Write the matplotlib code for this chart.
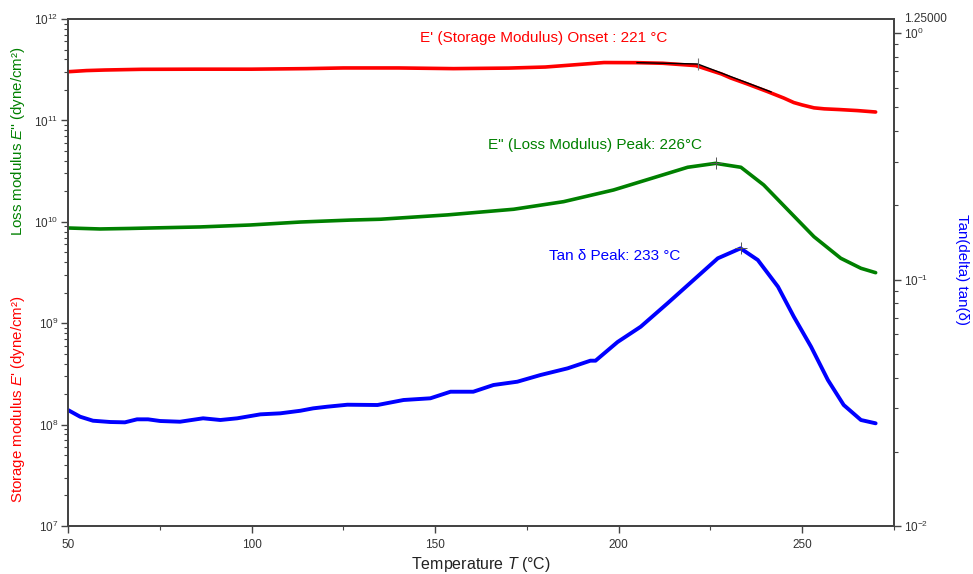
import numpy as np
import matplotlib
matplotlib.use("Agg")
import matplotlib.pyplot as plt
from matplotlib.ticker import LogLocator, NullFormatter, FixedLocator

plt.rcParams['font.family'] = ['Liberation Sans', 'DejaVu Sans']
plt.rcParams['mathtext.fontset'] = 'custom'
plt.rcParams['mathtext.rm'] = 'Liberation Sans'
plt.rcParams['mathtext.it'] = 'Liberation Sans:italic'

# storage modulus E' (dyne/cm2)
storage_T = [50, 55, 60, 70, 85, 100, 115, 125, 140, 155, 170, 180, 190, 196, 205,
             212, 221, 228, 230.5, 235, 240.6, 245, 247.7, 250, 253.2, 256, 260, 265, 270]
storage_E = [3.02e11, 3.10e11, 3.14e11, 3.19e11, 3.20e11, 3.20e11, 3.24e11, 3.29e11,
             3.29e11, 3.24e11, 3.28e11, 3.36e11, 3.58e11, 3.72e11, 3.71e11, 3.66e11,
             3.47e11, 2.87e11, 2.62e11, 2.29e11, 1.92e11, 1.66e11, 1.50e11, 1.42e11,
             1.33e11, 1.30e11, 1.28e11, 1.25e11, 1.21e11]

# loss modulus E'' (dyne/cm2)
loss_T = [50, 58.7, 66.9, 72.4, 86, 99.6, 113.3, 126.9, 135.1, 153.4, 171.4, 185,
          198.6, 209.5, 218.8, 226.4, 233.3, 239.5, 246.1, 253.2, 260.5, 266, 270]
loss_E = [8.69e9, 8.5e9, 8.6e9, 8.69e9, 8.9e9, 9.3e9, 9.95e9, 1.04e10, 1.06e10,
          1.17e10, 1.33e10, 1.58e10, 2.06e10, 2.72e10, 3.45e10, 3.77e10, 3.45e10,
          2.31e10, 1.31e10, 7.13e9, 4.37e9, 3.48e9, 3.15e9]

# tan delta
tan_T = [50, 53.3, 56.8, 61.5, 65.5, 68.8, 71.8, 75.1, 80.5, 86.8, 91.5, 96.1, 102.4,
         107.8, 113.3, 116.8, 120.6, 126.1, 134.3, 141.4, 148.7, 154.2, 160.4, 165.9,
         172.4, 178.7, 186.1, 192.3, 193.7, 199.7, 206, 213.3, 220.4, 227, 233.2,
         237.9, 243.4, 247.7, 252.4, 257, 261.3, 266, 270]
tan_d = [0.02955, 0.02776, 0.02674, 0.02642, 0.02634, 0.02709, 0.02709, 0.02667,
         0.02649, 0.02735, 0.02692, 0.02735, 0.02838, 0.02865, 0.02935, 0.03002,
         0.03048, 0.03105, 0.03097, 0.03245, 0.03297, 0.03506, 0.03506, 0.03733,
         0.03850, 0.04098, 0.04362, 0.04685, 0.04685, 0.05578, 0.06434, 0.08006,
         0.09954, 0.1219, 0.1338, 0.1200, 0.0935, 0.0707, 0.0534, 0.0391, 0.03097,
         0.02692, 0.02610]

# onset tangent construction and peak markers
onset_T = [205, 221.5, 241.5]
onset_E = [3.71e11, 3.60e11, 1.91e11]
peak_loss = (226.4, 3.77e10)
peak_tan = (233.2, 0.1338)

fig = plt.figure(figsize=(9.73, 5.74), dpi=100)
ax = fig.add_axes([0.0699, 0.0836, 0.8489, 0.8833])
ax2 = ax.twinx()

ax.plot(storage_T, storage_E, color='#ff0000', lw=2.6, solid_capstyle='round')
ax.plot(loss_T, loss_E, color='#008000', lw=2.6, solid_capstyle='round')
ax.plot(onset_T, onset_E, color='black', lw=1.0)
ax2.plot(tan_T, tan_d, color='#0000ff', lw=2.8, solid_capstyle='round')

# peak / onset crosses
ax.plot([onset_T[1]], [onset_E[1]], marker='|', ms=8, mew=0.8, color='#777777')
ax.plot([peak_loss[0]], [peak_loss[1]], marker='+', ms=9, mew=0.7, color='#555555')
ax2.plot([peak_tan[0]], [peak_tan[1]], marker='+', ms=9, mew=0.7, color='#555555')

ax.set_xlim(50, 275)
ax.set_yscale('log')
ax.set_ylim(1e7, 1e12)
ax2.set_yscale('log')
ax2.set_ylim(0.01, 1.14)

ax.xaxis.set_major_locator(FixedLocator([50, 100, 150, 200, 250]))
ax.xaxis.set_minor_locator(FixedLocator([75, 125, 175, 225, 275]))
ax.yaxis.set_major_locator(LogLocator(base=10, numticks=10))
ax.yaxis.set_minor_locator(LogLocator(base=10, subs=np.arange(2, 10), numticks=20))
ax.yaxis.set_minor_formatter(NullFormatter())
ax2.yaxis.set_major_locator(FixedLocator([0.01, 0.1, 1]))
ax2.yaxis.set_minor_locator(LogLocator(base=10, subs=np.arange(2, 10), numticks=20))
ax2.yaxis.set_minor_formatter(NullFormatter())

spine_c = '#444444'
for a in (ax, ax2):
    for s in a.spines.values():
        s.set_color(spine_c)
        s.set_linewidth(1.3)
    a.tick_params(which='major', direction='out', length=5, width=1.0,
                  color=spine_c, labelsize=8.5, labelcolor='#333333')
    a.tick_params(which='minor', direction='out', length=3, width=0.8, color=spine_c)
ax.tick_params(axis='x', pad=4)
ax.tick_params(axis='y', pad=2)
ax2.tick_params(axis='y', pad=2)

ax.set_xlabel('Temperature $T$ (°C)', fontsize=11.5, color='#222222', labelpad=3)

fig.text(0.019, 0.305, "Storage modulus $E$' (dyne/cm²)", rotation=90, color='#ff0000',
         fontsize=10.8, ha='center', va='center')
fig.text(0.019, 0.754, "Loss modulus $E$'' (dyne/cm²)", rotation=90, color='#008000',
         fontsize=10.8, ha='center', va='center')
fig.text(0.989, 0.531, 'Tan(delta) tan(δ)', rotation=270, color='#0000ff',
         fontsize=10.9, ha='center', va='center')
ax2.text(1.012, 1.0, '1.25000', transform=ax2.transAxes, fontsize=8.5,
         color='#333333', ha='left', va='center')

ax.text(179.7, 6.5e11, "E' (Storage Modulus) Onset : 221 °C", color='#ff0000',
        fontsize=11, ha='center', va='center')
ax.text(193.6, 5.7e10, 'E" (Loss Modulus) Peak: 226°C', color='#008000',
        fontsize=11, ha='center', va='center')
ax2.text(198.9, 0.1245, 'Tan δ Peak: 233 °C', color='#0000ff',
         fontsize=11, ha='center', va='center')

fig.savefig('out.png', dpi=100)
